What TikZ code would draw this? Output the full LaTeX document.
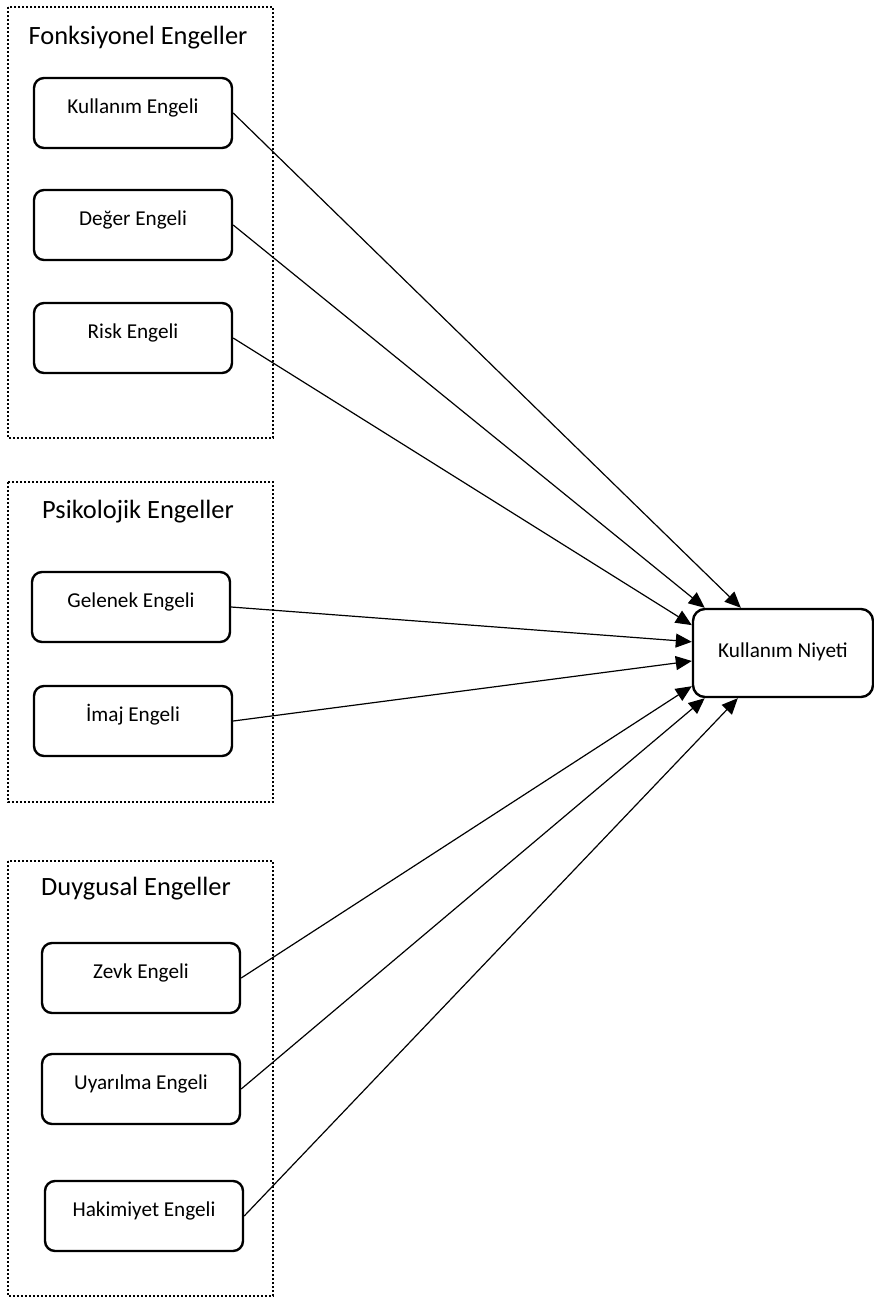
\documentclass[tikz,border=0pt]{standalone}
\usepackage{fontspec}
\setmainfont{Carlito}
\usetikzlibrary{arrows.meta}
\newcommand\engelfont{\fontsize{10.6}{12}\selectfont}
\newcommand\grupfont{\fontsize{13.2}{15}\selectfont}

\begin{document}
\begin{tikzpicture}[x=0.5pt,y=-0.5pt,
  engel/.style={draw,line width=1.2pt,rounded corners=5pt,minimum width=99pt,minimum height=35pt,
    text height=7pt,text depth=7pt,inner sep=0pt,font=\engelfont},
  grup/.style={draw,line width=1.2pt,dash pattern=on 1.1pt off 0.9pt},
  baslik/.style={anchor=base,font=\grupfont},
  ok/.style={-{Triangle[length=8pt,width=7pt]},line width=0.6pt}]
\useasboundingbox (0,0) rectangle (874,1298);

%groups
\draw[grup] (8,7) rectangle (273,438);
\draw[grup] (8,482) rectangle (273,802);
\draw[grup] (8,861) rectangle (273,1296);

\node[baslik] (fonk) at (138,44) {Fonksiyonel Engeller};
\node[baslik] (psiko) at (138,518) {Psikolojik Engeller};
\node[baslik] (duygu) at (136,895) {Duygusal Engeller};

%fonksiyonel
\node[engel] (kullanim) at (133,113) {Kullanım Engeli};
\node[engel] (deger) at (133,225) {Değer Engeli};
\node[engel] (risk) at (133,338) {Risk Engeli};
%psikolojik
\node[engel] (gelenek) at (131,607) {Gelenek Engeli};
\node[engel] (imaj) at (133,721) {İmaj Engeli};
%duygusal
\node[engel] (zevk) at (141,978) {Zevk Engeli};
\node[engel] (uyarilma) at (141,1089) {Uyarılma Engeli};
\node[engel] (hakimiyet) at (144,1216) {Hakimiyet Engeli};

\node[engel,minimum width=90pt,minimum height=44pt,rounded corners=6pt,
  text height=9pt,text depth=5pt] (niyet) at (783,653) {Kullanım Niyeti};

\foreach \n/\a in {kullanim/133.7,deger/150,risk/163.9,gelenek/173.7,
  imaj/185.7,zevk/200.7,uyarilma/210,hakimiyet/225}{%
\draw[ok] (\n.east) -- (niyet.\a);
}

\end{tikzpicture}
\end{document}
